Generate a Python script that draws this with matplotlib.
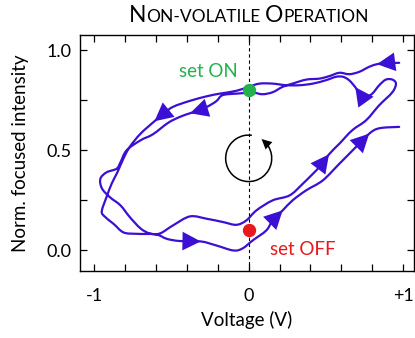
import matplotlib
matplotlib.use("Agg")
import matplotlib.pyplot as plt
from matplotlib.patches import Arc, PathPatch
from matplotlib.path import Path
import numpy as np

plt.rcParams['font.family'] = ['Lato', 'DejaVu Sans']

# hysteresis trace, in order of travel
volt = [0.974, 0.93, 0.87, 0.83, 0.78, 0.716, 0.652, 0.587, 0.52, 0.458,
        0.372, 0.284, 0.22, 0.155, 0.09, 0.03, -0.08, -0.17, -0.21, -0.27,
        -0.33, -0.38, -0.445, -0.52, -0.62, -0.70, -0.79, -0.83, -0.855, -0.92,
        -0.96, -0.95, -0.90, -0.83, -0.77, -0.70, -0.64, -0.574, -0.49, -0.38,
        -0.27, -0.167, -0.08, -0.015, 0.05, 0.155, 0.265, 0.35, 0.458, 0.52,
        0.587, 0.67, 0.76, 0.845, 0.93, 0.953, 0.93, 0.888, 0.845, 0.80,
        0.76, 0.727, 0.69, 0.65, 0.61, 0.565, 0.50, 0.415, 0.33, 0.243,
        0.155, 0.07, 0.0, -0.08, -0.187, -0.27, -0.38, -0.49, -0.55, -0.61,
        -0.70, -0.77, -0.81, -0.85, -0.886, -0.92, -0.95, -0.94, -0.875, -0.81,
        -0.725, -0.60, -0.53, -0.445, -0.31, -0.21, -0.10, -0.04, 0.026, 0.114,
        0.155, 0.22, 0.284, 0.372, 0.48, 0.587, 0.695, 0.78, 0.845, 0.974]
inten = [0.937, 0.936, 0.934, 0.930, 0.917, 0.892, 0.880, 0.887, 0.870, 0.858,
         0.853, 0.833, 0.817, 0.790, 0.780, 0.787, 0.783, 0.775, 0.745, 0.717,
         0.697, 0.685, 0.667, 0.638, 0.580, 0.550, 0.500, 0.440, 0.408, 0.390,
         0.358, 0.310, 0.267, 0.225, 0.167, 0.110, 0.085, 0.085, 0.125, 0.170,
         0.158, 0.142, 0.128, 0.150, 0.200, 0.250, 0.275, 0.333, 0.417, 0.480,
         0.533, 0.600, 0.650, 0.725, 0.790, 0.833, 0.853, 0.853, 0.825, 0.783,
         0.767, 0.775, 0.815, 0.850, 0.867, 0.867, 0.850, 0.833, 0.825, 0.825,
         0.833, 0.833, 0.817, 0.797, 0.783, 0.770, 0.747, 0.717, 0.683, 0.645,
         0.583, 0.517, 0.460, 0.390, 0.335, 0.267, 0.200, 0.175, 0.133, 0.090,
         0.083, 0.080, 0.058, 0.047, 0.045, 0.025, 0.000, 0.010, 0.050, 0.100,
         0.150, 0.200, 0.250, 0.300, 0.350, 0.433, 0.517, 0.583, 0.610, 0.617]
arrow_idx = [3, 21, 49, 62, 79, 94, 101, 107]

set_on = (0.0, 0.80)
set_off = (0.0, 0.10)

xticks = [-1, -0.8, -0.6, -0.4, -0.2, 0, 0.2, 0.4, 0.6, 0.8, 1]
xlabels = ['-1', '', '', '', '', '0', '', '', '', '', '+1']
yticks = [0, 0.25, 0.5, 0.75, 1.0]
ylabels = ['0.0', '', '0.5', '', '1.0']

blue = '#3b10d4'
green = '#22b14c'
red = '#e8181d'

fig = plt.figure(figsize=(4.15, 3.38), dpi=100)
ax = fig.add_axes([0.1916, 0.198, 0.806, 0.698])

ax.axvline(0, color='black', lw=0.8, ls=(0, (3, 2.5)), zorder=1)

# smooth trace through the read points (Catmull-Rom as cubic Bezier)
P = np.column_stack([volt, inten])
verts = [P[0]]
codes = [Path.MOVETO]
n = len(P)
for i in range(n - 1):
    p0 = P[max(i - 1, 0)]
    p1 = P[i]
    p2 = P[i + 1]
    p3 = P[min(i + 2, n - 1)]
    verts += [p1 + (p2 - p0) / 6, p2 - (p3 - p1) / 6, p2]
    codes += [Path.CURVE4] * 3
ax.add_patch(PathPatch(Path(verts, codes), fill=False, edgecolor=blue, lw=1.6,
                       joinstyle='round', capstyle='round', zorder=2))

for i in arrow_idx:
    ax.annotate('', xy=(volt[i], inten[i]), xytext=(volt[i - 1], inten[i - 1]),
                arrowprops=dict(arrowstyle='-|>,head_length=0.55,head_width=0.28',
                                color=blue, lw=0, shrinkA=0, shrinkB=0,
                                mutation_scale=24), zorder=3)

# circular arrow
cx, cy, rx, ry = 0.0, 0.46, 0.149, 0.116
ax.add_patch(Arc((cx, cy), 2 * rx, 2 * ry, theta1=80, theta2=44,
                 color='black', lw=1.1, zorder=3))
t0, t1 = np.radians(40), np.radians(56)
ax.annotate('', xy=(cx + rx * np.cos(t1), cy + ry * np.sin(t1)),
            xytext=(cx + rx * np.cos(t0), cy + ry * np.sin(t0)),
            arrowprops=dict(arrowstyle='-|>,head_length=0.6,head_width=0.3',
                            color='black', lw=0, shrinkA=0, shrinkB=0,
                            mutation_scale=12), zorder=3)

ax.plot(*set_on, 'o', color=green, ms=8.6, zorder=4)
ax.plot(*set_off, 'o', color=red, ms=8.6, zorder=4)
ax.text(-0.26, 0.865, 'set ON', color=green, fontsize=13.5, ha='center', va='baseline')
ax.text(0.35, -0.025, 'set OFF', color=red, fontsize=13.5, ha='center', va='baseline')

ax.set_xlim(-1.095, 1.07)
ax.set_ylim(-0.103, 1.075)
ax.set_xticks(xticks)
ax.set_xticklabels(xlabels)
ax.set_yticks(yticks)
ax.set_yticklabels(ylabels)
ax.tick_params(direction='in', length=5, width=0.9, top=True, right=True,
               labelsize=13, pad=6)
ax.tick_params(axis='x', pad=12)
for s in ax.spines.values():
    s.set_linewidth(1.0)
ax.set_xlabel('Voltage (V)', fontsize=13.5, labelpad=5)
ax.set_ylabel('Norm. focused intensity', fontsize=13.5, labelpad=12)

# small-caps title built from pieces
fig.canvas.draw()
rend = fig.canvas.get_renderer()
pieces = [('N', 16.5), ('ON-VOLATILE', 12.5), (' ', 12.5), ('O', 16.5), ('PERATION', 12.5)]
texts = []
for s, fs in pieces:
    t = fig.text(0, 0.936, s if s != ' ' else '.', fontsize=fs, va='baseline', ha='left')
    texts.append(t)
widths = [t.get_window_extent(rend).width for t in texts]
widths[2] = 4.5
texts[2].set_visible(False)
total = sum(widths)
x = 249 - total / 2
for t, w in zip(texts, widths):
    t.set_x(x / 415)
    x += w

fig.savefig('out.png', dpi=100)
